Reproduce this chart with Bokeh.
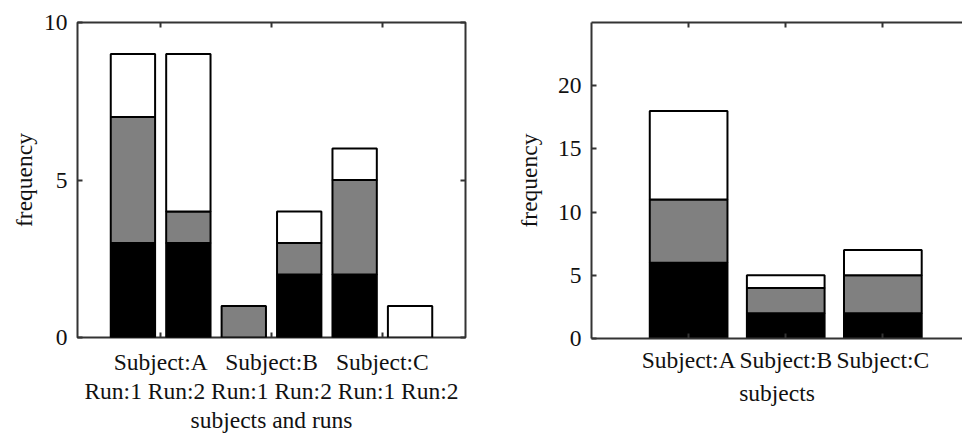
from bokeh.plotting import figure
from bokeh.models import LinearAxis, FixedTicker, Range1d, ColumnDataSource
from bokeh.layouts import row
from bokeh.embed import file_html
from bokeh.resources import INLINE

# ---- data ----
subjects = ["Subject:A", "Subject:B", "Subject:C"]
run_labels = ["Run:1", "Run:2", "Run:1", "Run:2", "Run:1", "Run:2"]
black_runs = [3, 3, 0, 2, 2, 0]
gray_runs = [4, 1, 1, 1, 3, 0]
white_runs = [2, 5, 0, 1, 1, 1]
black_subj = [6, 2, 2]
gray_subj = [5, 2, 3]
white_subj = [7, 1, 2]
left_yticks = [0, 5, 10]
right_yticks = [0, 5, 10, 15, 20]

FONT = "Times"
FS = "23.5px"
LINE = "#333333"
COLORS = ["black", "#808080", "white"]

x_runs = [i + 1 for i in range(len(run_labels))]
group_centers = [(x_runs[2 * i] + x_runs[2 * i + 1]) / 2 for i in range(len(subjects))]
x_subj = [i + 1 for i in range(len(subjects))]


def style(ax, labels=True, ticks=True, line=False):
    ax.major_tick_in = 5
    ax.major_tick_out = 0
    ax.minor_tick_line_color = None
    ax.major_tick_line_width = 2
    ax.major_tick_line_color = LINE if ticks else None
    ax.major_label_text_font = FONT
    ax.major_label_text_font_size = FS
    ax.major_label_text_color = "#111111"
    ax.axis_label_text_font = FONT
    ax.axis_label_text_font_size = FS
    ax.axis_label_text_font_style = "normal"
    ax.axis_label_text_color = "#111111"
    if line:
        ax.axis_line_color = LINE
        ax.axis_line_width = 2
    else:
        ax.axis_line_color = None
    if not labels:
        ax.major_label_standoff = 0
        ax.major_label_text_font_size = "1px"


def blank_axis(ticks, line=False):
    ax = LinearAxis(ticker=FixedTicker(ticks=ticks),
                    major_label_overrides={t: " " for t in ticks})
    style(ax, labels=False, line=line)
    return ax


def title_axis(text, standoff):
    ax = LinearAxis(ticker=FixedTicker(ticks=[]), axis_label=text)
    style(ax, ticks=False)
    ax.major_label_standoff = 0
    ax.axis_label_standoff = standoff
    return ax


# ---- left panel ----
p1 = figure(frame_width=388, frame_height=315, x_range=Range1d(0, 7), y_range=Range1d(0, 10),
            output_backend="svg", toolbar_location=None,
            min_border_left=77, min_border_right=47, min_border_top=22, min_border_bottom=4)
p1.grid.visible = False
p1.outline_line_color = LINE
p1.outline_line_width = 2

src1 = ColumnDataSource(dict(x=x_runs, black=black_runs, gray=gray_runs, white=white_runs))
p1.vbar_stack(["black", "gray", "white"], x="x", width=0.8, source=src1,
              fill_color=COLORS, line_color="black", line_width=2)

ax = p1.xaxis[0]
ax.ticker = FixedTicker(ticks=group_centers)
ax.major_label_overrides = {c: s for c, s in zip(group_centers, subjects)}
style(ax)
ax.major_label_standoff = 11

p1.add_layout(title_axis(" ".join(run_labels), 0), "below")
p1.add_layout(title_axis("subjects and runs", 0), "below")

ly = p1.yaxis[0]
ly.ticker = FixedTicker(ticks=left_yticks)
ly.axis_label = "frequency"
style(ly)
ly.major_label_standoff = 10
ly.axis_label_standoff = 4

p1.add_layout(blank_axis(group_centers), "above")
p1.add_layout(blank_axis(left_yticks), "right")

# ---- right panel ----
p2 = figure(frame_width=371, frame_height=316, x_range=Range1d(0, 3.82), y_range=Range1d(0, 25),
            output_backend="svg", toolbar_location=None,
            min_border_left=75, min_border_right=0, min_border_top=22, min_border_bottom=4)
p2.grid.visible = False
p2.outline_line_color = None

src2 = ColumnDataSource(dict(x=x_subj, black=black_subj, gray=gray_subj, white=white_subj))
p2.vbar_stack(["black", "gray", "white"], x="x", width=0.8, source=src2,
              fill_color=COLORS, line_color="black", line_width=2)

bx = p2.xaxis[0]
bx.ticker = FixedTicker(ticks=x_subj)
bx.major_label_overrides = {x: s for x, s in zip(x_subj, subjects)}
bx.axis_label = "subjects"
style(bx, line=True)
bx.major_label_standoff = 8
bx.axis_label_standoff = 4

ry = p2.yaxis[0]
ry.ticker = FixedTicker(ticks=right_yticks)
ry.axis_label = "frequency"
style(ry, line=True)
ry.major_label_standoff = 10
ry.axis_label_standoff = 13

p2.add_layout(blank_axis(x_subj, line=True), "above")

layout = row(p1, p2)
open("out.html", "w").write(file_html(layout, INLINE))
